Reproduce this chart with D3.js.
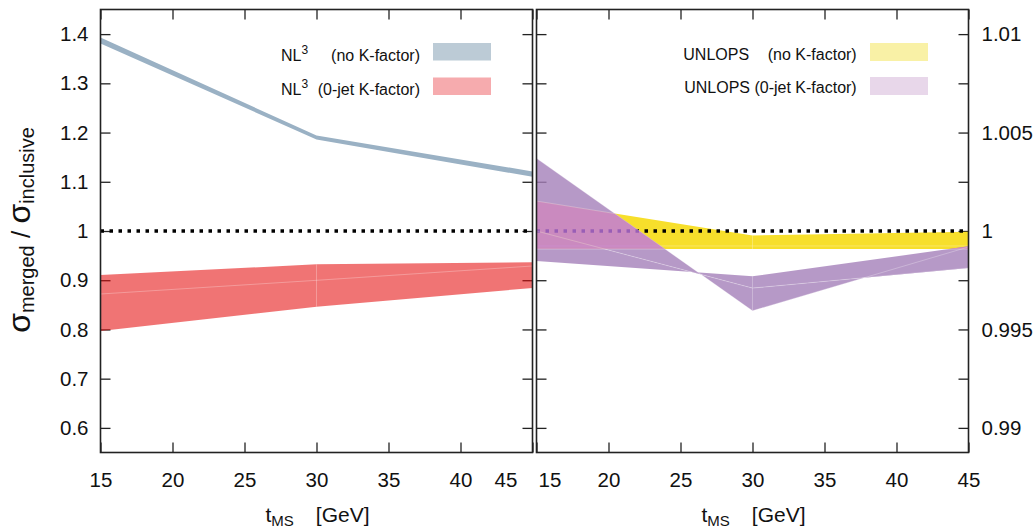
<!DOCTYPE html>
<html><head><meta charset="utf-8">
<script src="https://cdn.jsdelivr.net/npm/d3@7"></script>
<style>
html,body{margin:0;padding:0;background:#fff;}
svg{display:block;font-family:"Liberation Sans",Arial,Helvetica,sans-serif;}
</style></head><body>
<svg id="chart" width="1036" height="528"></svg>
<script>
// ---------------- data ----------------
const tms = [15, 30, 45];
// left panel: NL3
const nl3NoKUpper   = [1.393, 1.194, 1.121];
const nl3NoKLower   = [1.381, 1.186, 1.110];
const nl3KUpper     = [0.9106, 0.9323, 0.9364];
const nl3KCentral   = [0.8720, 0.8998, 0.9289];
const nl3KLower     = [0.7968, 0.8462, 0.8842];
// right panel: UNLOPS
const unlopsNoKUpper   = [1.00152, 0.99977, 0.99996];
const unlopsNoKCentral = [0.99924, 0.99924, 0.99924];
const unlopsNoKLower   = [0.99908, 0.99908, 0.99908];
const unlopsKVarA      = [1.00369, 0.99595, 0.99919];
const unlopsKCentral   = [1.00000, 0.99710, 0.99812];
const unlopsKVarB      = [0.99848, 0.99770, 0.99922];

const xTicks = [15, 20, 25, 30, 35, 40, 45];
const leftYTicks = [0.6, 0.7, 0.8, 0.9, 1.0, 1.1, 1.2, 1.3, 1.4];
const leftYTickLabels = ["0.6", "0.7", "0.8", "0.9", "1", "1.1", "1.2", "1.3", "1.4"];
const rightYTicks = [0.99, 0.9925, 0.995, 0.9975, 1.0, 1.0025, 1.005, 1.0075, 1.01];
const rightYTickLabels = ["0.99", "", "0.995", "", "1", "", "1.005", "", "1.01"];
const legendLeftNames = ["(no K-factor)", "(0-jet K-factor)"];
const legendRightNames = ["(no K-factor)", "UNLOPS (0-jet K-factor)"];

// ---------------- layout ----------------
const svg = d3.select("#chart");
const plotTop = 9.5, plotBottom = 452.5;
const xL = d3.scaleLinear().domain([15, 45]).range([100.5, 532.5]);
const xR = d3.scaleLinear().domain([15, 45]).range([536.5, 968.5]);
const yL = d3.scaleLinear().domain([0.55, 1.45]).range([plotBottom, plotTop]);
const yR = d3.scaleLinear().domain([1 - 0.45 / 40, 1 + 0.45 / 40]).range([plotBottom, plotTop]);

const FRAME = "#222";
const tickFont = 20.5;

function styleAxis(g) {
  g.select(".domain").remove();
  g.attr("font-size", tickFont).attr("font-family", null).attr("color", FRAME);
  g.selectAll(".tick line").attr("stroke-width", 1.3);
  g.selectAll(".tick text").attr("fill", "#111");
}

const layerTicks = svg.append("g");
const layerBands = svg.append("g");
const layerFrame = svg.append("g");
const layerText = svg.append("g");

// ---------- ticks (inward, all four sides) ----------
function panelTicks(x, y, yVals, yLabels, side) {
  const b = layerTicks.append("g").attr("transform", `translate(0,${plotBottom})`)
    .call(d3.axisBottom(x).tickValues(xTicks).tickSizeInner(-10).tickSizeOuter(0).tickPadding(20)
      .tickFormat(d => String(d)));
  styleAxis(b);
  const t = layerTicks.append("g").attr("transform", `translate(0,${plotTop})`)
    .call(d3.axisTop(x).tickValues(xTicks).tickSizeInner(-10).tickSizeOuter(0).tickFormat(""));
  styleAxis(t);
  const x0 = x.range()[0], x1 = x.range()[1];
  if (side === "left") {
    const l = layerTicks.append("g").attr("transform", `translate(${x0},0)`)
      .call(d3.axisLeft(y).tickValues(yVals).tickSizeInner(-10).tickSizeOuter(0).tickPadding(12)
        .tickFormat((d, i) => yLabels[i]));
    styleAxis(l);
    const r = layerTicks.append("g").attr("transform", `translate(${x1},0)`)
      .call(d3.axisRight(y).tickValues(yVals).tickSizeInner(-10).tickSizeOuter(0).tickFormat(""));
    styleAxis(r);
  } else {
    const r = layerTicks.append("g").attr("transform", `translate(${x1},0)`)
      .call(d3.axisRight(y).tickValues(yVals).tickSizeInner(-10).tickSizeOuter(0).tickPadding(13)
        .tickFormat((d, i) => yLabels[i]));
    styleAxis(r);
    const l = layerTicks.append("g").attr("transform", `translate(${x0},0)`)
      .call(d3.axisLeft(y).tickValues(yVals).tickSizeInner(-10).tickSizeOuter(0).tickFormat(""));
    styleAxis(l);
  }
  return b;
}
const bL = panelTicks(xL, yL, leftYTicks, leftYTickLabels, "left");
const bR = panelTicks(xR, yR, rightYTicks, rightYTickLabels, "right");
bL.selectAll(".tick text").filter(d => d === 45).attr("dx", -27);
bR.selectAll(".tick text").filter(d => d === 15).attr("dx", 13);

// ---------- helpers ----------
function rows(...arrs) {
  return tms.map((t, i) => ({ t, v: arrs.map(a => a[i]) }));
}
function areaGen(x, y, i0, i1) {
  return d3.area().x(d => x(d.t)).y0(d => y(d.v[i0])).y1(d => y(d.v[i1]));
}
function lineGen(x, y, i) {
  return d3.line().x(d => x(d.t)).y(d => y(d.v[i]));
}
const seam = { stroke: "#fff", "stroke-opacity": 0.35, "stroke-width": 0.8, fill: "none" };
function applyAttrs(sel, o) { Object.entries(o).forEach(([k, v]) => sel.attr(k, v)); return sel; }
function vSeam(g, x, y, arrs, t) {
  const i = tms.indexOf(t);
  const vals = arrs.map(a => a[i]);
  applyAttrs(g.append("line")
    .attr("x1", x(t)).attr("x2", x(t))
    .attr("y1", y(d3.max(vals))).attr("y2", y(d3.min(vals))), seam);
}

function refLine(x, y) {
  layerBands.append("line")
    .attr("x1", x.range()[0]).attr("x2", x.range()[1])
    .attr("y1", y(1)).attr("y2", y(1))
    .attr("stroke", "#000").attr("stroke-width", 3.3)
    .attr("stroke-dasharray", "3.5 5.5");
}

// ---------- left panel bands ----------
refLine(xL, yL);
const blueRows = rows(nl3NoKUpper, nl3NoKLower);
layerBands.append("path").datum(blueRows)
  .attr("d", areaGen(xL, yL, 0, 1)).attr("fill", "#9ab1c4");

const redRows = rows(nl3KUpper, nl3KCentral, nl3KLower);
const redG = layerBands.append("g");
redG.append("path").datum(redRows).attr("d", areaGen(xL, yL, 0, 2))
  .attr("fill", "rgb(228,10,10)").attr("fill-opacity", 0.57);
applyAttrs(redG.append("path").datum(redRows).attr("d", lineGen(xL, yL, 1)), seam);
vSeam(redG, xL, yL, [nl3KUpper, nl3KLower], 30);

// ---------- right panel bands ----------
const yelRows = rows(unlopsNoKUpper, unlopsNoKCentral, unlopsNoKLower);
layerBands.append("path").datum(yelRows).attr("d", areaGen(xR, yR, 0, 2)).attr("fill", "#f7df2b");
applyAttrs(layerBands.append("path").datum(yelRows).attr("d", lineGen(xR, yR, 1)), seam);
vSeam(layerBands, xR, yR, [unlopsNoKUpper, unlopsNoKLower], 30);
refLine(xR, yR);

const purRows = rows(unlopsKVarA, unlopsKCentral, unlopsKVarB);
const defs = svg.append("defs");
const clip = defs.append("clipPath").attr("id", "purpleClip");
clip.append("path").datum(purRows).attr("d", areaGen(xR, yR, 0, 1));
clip.append("path").datum(purRows).attr("d", areaGen(xR, yR, 1, 2));

const purG = layerBands.append("g").attr("opacity", 0.8);
purG.append("path").datum(purRows).attr("d", areaGen(xR, yR, 0, 1)).attr("fill", "rgb(165,128,186)");
purG.append("path").datum(purRows).attr("d", areaGen(xR, yR, 1, 2)).attr("fill", "rgb(165,128,186)");
purG.append("path").datum(yelRows).attr("d", areaGen(xR, yR, 0, 2))
  .attr("clip-path", "url(#purpleClip)").attr("fill", "rgb(192,118,228)");
applyAttrs(purG.append("path").datum(purRows).attr("d", lineGen(xR, yR, 1)), seam);
applyAttrs(purG.append("path").datum(purRows).attr("d", lineGen(xR, yR, 0)), seam);
applyAttrs(purG.append("path").datum(yelRows).attr("d", lineGen(xR, yR, 0))
  .attr("clip-path", "url(#purpleClip)"), seam);
applyAttrs(purG.append("path").datum(yelRows).attr("d", lineGen(xR, yR, 2))
  .attr("clip-path", "url(#purpleClip)"), seam);
vSeam(purG, xR, yR, [unlopsKVarA, unlopsKCentral, unlopsKVarB], 30);

// ---------- frames ----------
[xL, xR].forEach(x => {
  layerFrame.append("rect")
    .attr("x", x.range()[0]).attr("y", plotTop)
    .attr("width", x.range()[1] - x.range()[0]).attr("height", plotBottom - plotTop)
    .attr("fill", "none").attr("stroke", FRAME).attr("stroke-width", 1.6);
});

// ---------- axis titles ----------
[xL, xR].forEach(x => {
  const cx = (x.range()[0] + x.range()[1]) / 2;
  const tt = layerText.append("text").attr("x", cx + 1).attr("y", 521.5)
    .attr("text-anchor", "middle").attr("font-size", 21).attr("fill", "#111");
  tt.append("tspan").text("t");
  tt.append("tspan").attr("font-size", 15).attr("dy", 4).text("MS");
  tt.append("tspan").attr("dy", -4).attr("dx", 22).text("[GeV]");
});

const yt = layerText.append("text")
  .attr("transform", "translate(30,230) rotate(-90)")
  .attr("text-anchor", "middle").attr("fill", "#111");
yt.append("tspan").attr("font-size", 32).text("σ");
yt.append("tspan").attr("font-size", 20).attr("dy", 4).text("merged");
yt.append("tspan").attr("font-size", 26).attr("dy", -4).text(" / ");
yt.append("tspan").attr("font-size", 32).text("σ");
yt.append("tspan").attr("font-size", 20).attr("dy", 4).text("inclusive");

// ---------- legends ----------
const legFont = 16;
const leftLegY = [60.5, 94.5];
const leftSwY = [43, 77.5];
const leftSwColors = ["#bccbd6", "#f6abae"];
legendLeftNames.forEach((name, i) => {
  const t1 = layerText.append("text").attr("x", 281).attr("y", leftLegY[i])
    .attr("font-size", legFont).attr("fill", "#111");
  t1.append("tspan").text("NL");
  t1.append("tspan").attr("font-size", 12).attr("dy", -7).text("3");
  layerText.append("text").attr("x", 420).attr("y", leftLegY[i])
    .attr("text-anchor", "end").attr("font-size", legFont).attr("fill", "#111").text(name);
  layerText.append("rect").attr("x", 433).attr("y", leftSwY[i])
    .attr("width", 58).attr("height", 17.5).attr("fill", leftSwColors[i]);
});

const rightLegY = [59.5, 93];
const rightSwY = [43, 77];
const rightSwColors = ["#f9f1a6", "#e8d7ea"];
layerText.append("text").attr("x", 683.3).attr("y", rightLegY[0])
  .attr("font-size", legFont).attr("fill", "#111").text("UNLOPS");
legendRightNames.forEach((name, i) => {
  layerText.append("text").attr("x", 856.7).attr("y", rightLegY[i])
    .attr("text-anchor", "end").attr("font-size", legFont).attr("fill", "#111").text(name);
  layerText.append("rect").attr("x", 870).attr("y", rightSwY[i])
    .attr("width", 58).attr("height", 18).attr("fill", rightSwColors[i]);
});
</script>
</body></html>
